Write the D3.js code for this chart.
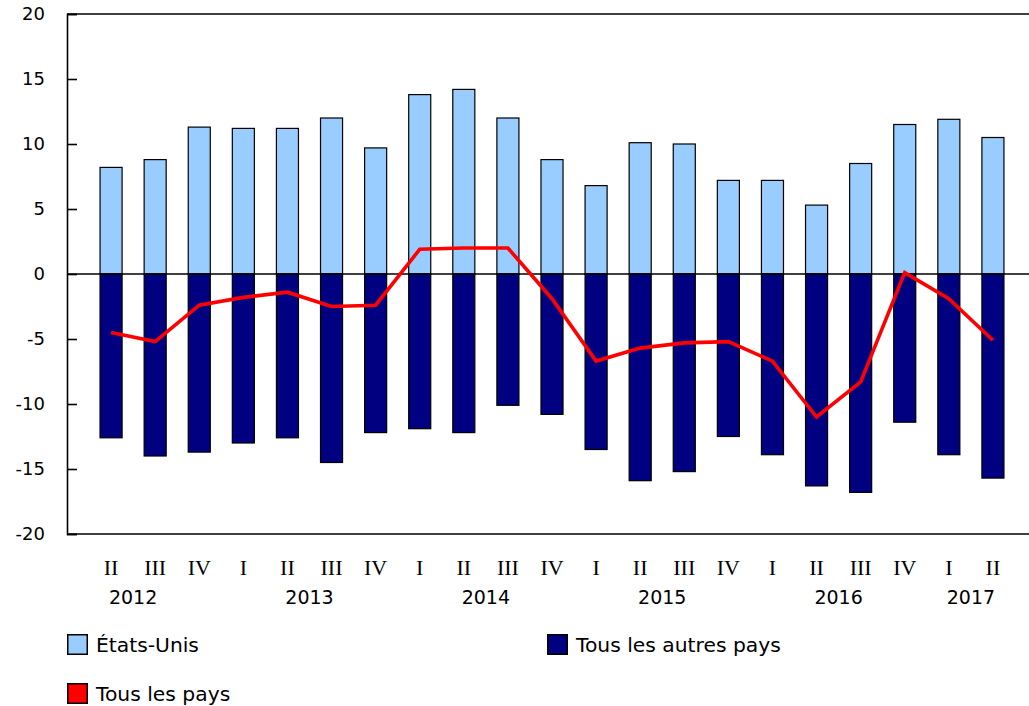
<!DOCTYPE html>
<html><head><meta charset="utf-8">
<script src="https://cdn.jsdelivr.net/npm/d3@7"></script>
<style>body{margin:0;background:#fff}svg{display:block}</style>
</head><body>
<script>
const quarters = ["II","III","IV","I","II","III","IV","I","II","III","IV","I","II","III","IV","I","II","III","IV","I","II"];
const years = ["2012","2012","2012","2013","2013","2013","2013","2014","2014","2014","2014","2015","2015","2015","2015","2016","2016","2016","2016","2017","2017"];
const etatsUnis = [8.2,8.8,11.3,11.2,11.2,12.0,9.7,13.8,14.2,12.0,8.8,6.8,10.1,10.0,7.2,7.2,5.3,8.5,11.5,11.9,10.5];
const autresPays = [-12.6,-14.0,-13.7,-13.0,-12.6,-14.5,-12.2,-11.9,-12.2,-10.1,-10.8,-13.5,-15.9,-15.2,-12.5,-13.9,-16.3,-16.8,-11.4,-13.9,-15.7];
const tousPays = [-4.5,-5.2,-2.4,-1.8,-1.4,-2.5,-2.4,1.9,2.0,2.0,-1.9,-6.7,-5.7,-5.3,-5.2,-6.7,-11.0,-8.3,0.1,-1.9,-5.1];
const yTicks = [-20,-15,-10,-5,0,5,10,15,20];
const seriesNames = ["États-Unis","Tous les autres pays","Tous les pays"];
const seriesColors = ["#99ccff","#000080","#ff0000"];

const W = 1029, H = 706;
const keys = quarters.map((q,i)=>years[i]+" "+q);
const svg = d3.select("body").append("svg").attr("width",W).attr("height",H);

const x = d3.scaleBand().domain(keys).range([78,1026]).padding(0.5);
const y = d3.scaleLinear().domain([-20,20]).range([534,14]);
const left = 67, right = 1029;

// bars
const g = svg.append("g");
g.selectAll("rect.us").data(etatsUnis).join("rect")
  .attr("x",(d,i)=>x(keys[i])).attr("width",x.bandwidth())
  .attr("y",d=>y(Math.max(0,d))).attr("height",d=>Math.abs(y(d)-y(0)))
  .attr("fill",seriesColors[0]).attr("stroke","#000").attr("stroke-width",1.2);
g.selectAll("rect.ot").data(autresPays).join("rect")
  .attr("x",(d,i)=>x(keys[i])).attr("width",x.bandwidth())
  .attr("y",d=>y(Math.max(0,d))).attr("height",d=>Math.abs(y(d)-y(0)))
  .attr("fill",seriesColors[1]).attr("stroke","#000").attr("stroke-width",1.2);

// frame lines
const lw = 1.6;
svg.append("line").attr("x1",left).attr("x2",right).attr("y1",y(20)).attr("y2",y(20)).attr("stroke","#000").attr("stroke-width",lw);
svg.append("line").attr("x1",left).attr("x2",right).attr("y1",y(-20)).attr("y2",y(-20)).attr("stroke","#000").attr("stroke-width",lw);
svg.append("line").attr("x1",left).attr("x2",right).attr("y1",y(0)).attr("y2",y(0)).attr("stroke","#000").attr("stroke-width",lw);

// y axis
const yAxis = d3.axisLeft(y).tickValues(yTicks).tickSize(-10).tickPadding(22).tickFormat(d=>String(d));
const ya = svg.append("g").attr("transform",`translate(${left},0)`).call(yAxis);
ya.select(".domain").attr("stroke","#000").attr("stroke-width",lw);
ya.selectAll(".tick line").attr("stroke","#000").attr("stroke-width",lw);
ya.selectAll(".tick text").attr("font-family","'DejaVu Sans',Verdana,sans-serif").attr("font-size","18px").attr("fill","#000").attr("dy","0.33em");

// line
const line = d3.line().x((d,i)=>x(keys[i])+x.bandwidth()/2).y(d=>y(d));
svg.append("path").datum(tousPays).attr("d",line).attr("fill","none")
  .attr("stroke",seriesColors[2]).attr("stroke-width",3.6).attr("stroke-linejoin","miter");

// x labels
const xa = svg.append("g");
xa.selectAll("text.q").data(quarters).join("text")
  .attr("x",(d,i)=>x(keys[i])+x.bandwidth()/2).attr("y",575)
  .attr("text-anchor","middle").attr("font-family","'Liberation Serif','Times New Roman',serif")
  .attr("font-size","22px").attr("fill","#000").text(d=>d);
const uniqYears = Array.from(new Set(years));
const yearPos = uniqYears.map(yr=>{
  const idx = years.map((v,i)=>v===yr?i:-1).filter(i=>i>=0);
  const qs = idx.map(i=>quarters[i]);
  const c = i=>x(keys[i])+x.bandwidth()/2;
  const i2 = qs.indexOf("II"), i3 = qs.indexOf("III");
  if (i2>=0 && i3>=0) return (c(idx[i2])+c(idx[i3]))/2;
  return (c(idx[0])+c(idx[idx.length-1]))/2;
});
xa.selectAll("text.y").data(uniqYears).join("text")
  .attr("x",(d,i)=>yearPos[i]).attr("y",604)
  .attr("text-anchor","middle").attr("font-family","'DejaVu Sans',Verdana,sans-serif")
  .attr("font-size","19px").attr("fill","#000").text(d=>d);

// legend
const legPos = [[67,634],[547,634],[67,683]];
const lg = svg.append("g");
seriesNames.forEach((n,i)=>{
  const [lx,ly] = legPos[i];
  lg.append("rect").attr("x",lx+0.75).attr("y",ly+0.75).attr("width",19.5).attr("height",19.5)
    .attr("fill",seriesColors[i]).attr("stroke","#000").attr("stroke-width",1.5);
  lg.append("text").attr("x",lx+29).attr("y",ly+18).attr("font-family","'DejaVu Sans',Verdana,sans-serif")
    .attr("font-size","20.3px").attr("fill","#000").text(n);
});
</script>
</body></html>
